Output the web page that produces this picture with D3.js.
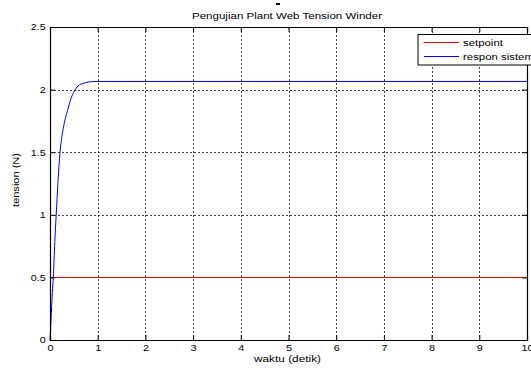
<!DOCTYPE html>
<html><head><meta charset="utf-8">
<script src="https://cdn.jsdelivr.net/npm/d3@7"></script>
<style>body{margin:0;background:#fff}svg{display:block}text{font-family:"Liberation Sans",Arial,sans-serif}</style>
</head><body>
<svg id="c" width="531" height="368"></svg>
<script>
const title = "Pengujian Plant Web Tension Winder";
const xLabel = "waktu (detik)";
const yLabel = "tension (N)";
const xTicks = [0,1,2,3,4,5,6,7,8,9,10];
const yTicks = [0,0.5,1,1.5,2,2.5];
const seriesNames = ["setpoint","respon sistem"];
const seriesColors = ["#ff0000","#0000ff"];
const setpointT = [0,10];
const setpointV = [0.5,0.5];
const responT = [0,0.02,0.05,0.07,0.1,0.13,0.17,0.21,0.26,0.31,0.38,0.45,0.5,0.59,0.7,0.8,0.94,10];
const responV = [0,0.15,0.38,0.5,0.78,1.0,1.28,1.5,1.65,1.75,1.85,1.94,1.98,2.03,2.05,2.06,2.065,2.065];

const svg = d3.select("#c");
const L=50,R=527,T=27,B=340;
const SX = 1.2; // horizontal stretch of text in the reference
const x = d3.scaleLinear().domain([0,10]).range([L,R]);
const y = d3.scaleLinear().domain([0,2.5]).range([B,T]);

// grid
const g = svg.append("g");
g.selectAll(".gx").data(xTicks.slice(1,-1)).enter().append("line")
 .attr("x1",d=>Math.round(x(d))+0.5).attr("x2",d=>Math.round(x(d))+0.5).attr("y1",T).attr("y2",B)
 .attr("stroke","#000").attr("stroke-width",1).attr("stroke-dasharray","2,2").attr("opacity",0.75);
g.selectAll(".gy").data(yTicks.slice(1,-1)).enter().append("line")
 .attr("y1",d=>Math.round(y(d))+0.5).attr("y2",d=>Math.round(y(d))+0.5).attr("x1",L).attr("x2",R)
 .attr("stroke","#000").attr("stroke-width",1).attr("stroke-dasharray","2,2").attr("opacity",0.75);

// lines
const line = d3.line().x(d=>x(d[0])).y(d=>Math.round(y(d[1]))+0.5);
svg.append("path").datum(setpointT.map((t,i)=>[t,setpointV[i]]))
 .attr("d",line).attr("fill","none").attr("stroke",seriesColors[0]).attr("stroke-width",1);
svg.append("path").datum(responT.map((t,i)=>[t,responV[i]]))
 .attr("d",d3.line().x(d=>x(d[0])).y(d=>y(d[1])).curve(d3.curveMonotoneX)).attr("fill","none").attr("stroke",seriesColors[1]).attr("stroke-width",1);

// axes with inward ticks
const ax = svg.append("g").attr("transform",`translate(0,${B})`)
 .call(d3.axisBottom(x).tickValues(xTicks).tickSize(-5).tickPadding(5).tickFormat(d3.format("d")));
const axT = svg.append("g").attr("transform",`translate(0,${T})`)
 .call(d3.axisTop(x).tickValues(xTicks).tickSize(-5).tickFormat(""));
const ay = svg.append("g").attr("transform",`translate(${L},0)`)
 .call(d3.axisLeft(y).tickValues(yTicks).tickSize(-5).tickPadding(3.6).tickFormat(d3.format("")));
const ayR = svg.append("g").attr("transform",`translate(${R},0)`)
 .call(d3.axisRight(y).tickValues(yTicks).tickSize(-5).tickFormat(""));
[ax,axT,ay,ayR].forEach(a=>{
  a.selectAll("path").attr("stroke","#000").attr("stroke-width",1.2);
  a.selectAll("line").attr("stroke","#000");
  a.selectAll("text").attr("font-size","9px").attr("fill","#000")
   .attr("font-family","Liberation Sans, Arial, sans-serif").attr("transform",`scale(${SX},1)`);
});

// title & labels
svg.append("text").attr("x",287).attr("y",18.5).attr("text-anchor","middle").attr("font-size","9.5px")
 .attr("textLength",190).attr("lengthAdjust","spacingAndGlyphs").text(title);
svg.append("line").attr("x1",276).attr("x2",280).attr("y1",4).attr("y2",4).attr("stroke","#000").attr("stroke-width",2);
svg.append("text").attr("x",287.5).attr("y",361.5).attr("text-anchor","middle").attr("font-size","9px")
 .attr("textLength",67).attr("lengthAdjust","spacingAndGlyphs").text(xLabel);
svg.append("text").attr("transform",`translate(18.5,180) rotate(-90)`).attr("text-anchor","middle").attr("font-size","8.5px")
 .attr("textLength",54).attr("lengthAdjust","spacingAndGlyphs").text(yLabel);

// legend
const lg = svg.append("g");
lg.append("rect").attr("x",418).attr("y",34.5).attr("width",130).attr("height",30.5)
 .attr("fill","#fff").attr("stroke","#000").attr("stroke-width",1);
seriesNames.forEach((n,i)=>{
  const yy = 42.5 + i*14;
  lg.append("line").attr("x1",424).attr("x2",459).attr("y1",yy).attr("y2",yy).attr("stroke",seriesColors[i]);
  lg.append("text").attr("transform",`translate(463,${yy+3.6}) scale(${SX},1)`).attr("font-size","9.5px").text(n);
});
</script>
</body></html>
